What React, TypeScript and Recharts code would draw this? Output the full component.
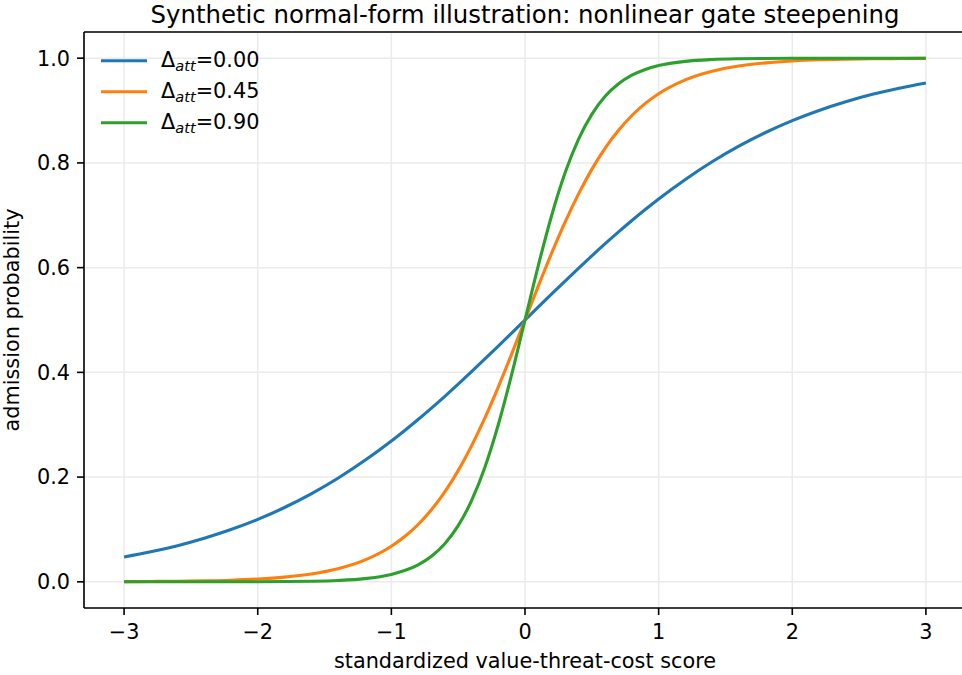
import React from 'react';
import { LineChart, Line, XAxis, YAxis, CartesianGrid, Legend, ReferenceLine } from 'recharts';

const xValues = [-3, -2.8, -2.6, -2.4, -2.2, -2, -1.8, -1.6, -1.4, -1.2, -1, -0.9, -0.8, -0.7, -0.6, -0.5, -0.4, -0.3, -0.2, -0.1, 0, 0.1, 0.2, 0.3, 0.4, 0.5, 0.6, 0.7, 0.8, 0.9, 1, 1.2, 1.4, 1.6, 1.8, 2, 2.2, 2.4, 2.6, 2.8, 3];
const delta000 = [0.0474, 0.0573, 0.0691, 0.0832, 0.0998, 0.1192, 0.1419, 0.168, 0.1978, 0.2315, 0.2689, 0.2891, 0.31, 0.3318, 0.3543, 0.3775, 0.4013, 0.4256, 0.4502, 0.475, 0.5, 0.525, 0.5498, 0.5744, 0.5987, 0.6225, 0.6457, 0.6682, 0.69, 0.7109, 0.7311, 0.7685, 0.8022, 0.832, 0.8581, 0.8808, 0.9002, 0.9168, 0.9309, 0.9427, 0.9526];
const delta045 = [0.0004, 0.0007, 0.0011, 0.0019, 0.0031, 0.0053, 0.0089, 0.0149, 0.0249, 0.0413, 0.0679, 0.0864, 0.1095, 0.1378, 0.1719, 0.2124, 0.2596, 0.313, 0.3719, 0.4349, 0.5, 0.5651, 0.6281, 0.687, 0.7404, 0.7876, 0.8281, 0.8622, 0.8905, 0.9136, 0.9322, 0.9587, 0.9751, 0.9851, 0.9911, 0.9947, 0.9969, 0.9981, 0.9989, 0.9993, 0.9996];
const delta090 = [0, 0, 0, 0, 0.0001, 0.0002, 0.0005, 0.0011, 0.0026, 0.0061, 0.0142, 0.0215, 0.0325, 0.0489, 0.0728, 0.1072, 0.155, 0.2189, 0.2999, 0.3956, 0.5, 0.6044, 0.7001, 0.7811, 0.845, 0.8928, 0.9272, 0.9511, 0.9675, 0.9785, 0.9858, 0.9939, 0.9974, 0.9989, 0.9995, 0.9998, 0.9999, 1, 1, 1, 1];

const xTicks = [-3, -2, -1, 0, 1, 2, 3];
const yTicks = [0, 0.2, 0.4, 0.6, 0.8, 1.0];
const seriesKeys = ['d000', 'd045', 'd090'];
const seriesLabels = ['0.00', '0.45', '0.90'];
const seriesColors = ['#1f77b4', '#ff7f0e', '#2ca02c'];

const titleText = 'Synthetic normal-form illustration: nonlinear gate steepening';
const xLabelText = 'standardized value-threat-cost score';
const yLabelText = 'admission probability';

const data = xValues.map((x, i) => ({ x, d000: delta000[i], d045: delta045[i], d090: delta090[i] }));

const FONT = 'DejaVu Sans, sans-serif';
const FS = 20.8;
const tickStyle = { fontFamily: FONT, fontSize: FS, fill: '#000' };
const AXW = 1.6;

const fmtX = (v: number) => String(v).replace('-', '\u2212');
const fmtY = (v: number) => v.toFixed(1);

const LegendContent = () => (
  <svg width={180} height={100} style={{ display: 'block', overflow: 'visible' }}>
    {seriesLabels.map((lab, i) => (
      <g key={lab}>
        <line x1={6} y1={20.7 + 31 * i} x2={52} y2={20.7 + 31 * i} stroke={seriesColors[i]} strokeWidth={3.1} />
        <text x={66} y={26.7 + 31 * i} style={{ fontFamily: FONT, fontSize: FS, fill: '#000' }}>
          Δ
          <tspan dy={4} style={{ fontStyle: 'italic', fontSize: 14.6 }}>att</tspan>
          <tspan dy={-4}>={lab}</tspan>
        </text>
      </g>
    ))}
  </svg>
);

export default function App() {
  return (
    <div style={{ position: 'absolute', left: 0, top: 0, width: 962, height: 675, overflow: 'hidden', background: '#fff' }}>
      <LineChart width={980} height={675} data={data} margin={{ top: 32, right: 14, bottom: 37, left: 24 }}>
        <CartesianGrid stroke="#ebebeb" strokeWidth={1.5} />
        <XAxis
          dataKey="x"
          type="number"
          domain={[-3.3, 3.3]}
          ticks={xTicks}
          tickFormatter={fmtX}
          allowDataOverflow
          height={30}
          tickSize={7}
          tickMargin={9}
          tick={tickStyle}
          stroke="#000"
          axisLine={{ stroke: '#000', strokeWidth: AXW }}
          tickLine={{ stroke: '#000', strokeWidth: AXW }}
          label={{
            content: (props: any) => {
              const vb = props.viewBox;
              return (
                <text x={vb.x + vb.width / 2} y={668} textAnchor="middle" style={{ fontFamily: FONT, fontSize: FS, fill: '#000' }}>
                  {xLabelText}
                </text>
              );
            },
          }}
        />
        <YAxis
          type="number"
          domain={[-0.05, 1.05]}
          ticks={yTicks}
          tickFormatter={fmtY}
          allowDataOverflow
          width={60}
          tickSize={7}
          tickMargin={7}
          tick={tickStyle}
          axisLine={{ stroke: '#000', strokeWidth: AXW }}
          tickLine={{ stroke: '#000', strokeWidth: AXW }}
          label={{
            content: (props: any) => {
              const vb = props.viewBox;
              const cx = 18.5;
              const cy = vb.y + vb.height / 2;
              return (
                <text x={cx} y={cy} textAnchor="middle" transform={`rotate(-90, ${cx}, ${cy})`} style={{ fontFamily: FONT, fontSize: FS, fill: '#000' }}>
                  {yLabelText}
                </text>
              );
            },
          }}
        />
        <ReferenceLine y={1.05} stroke="#000" strokeWidth={AXW} ifOverflow="visible" />
        <Legend
          layout="vertical"
          align="center"
          verticalAlign="middle"
          content={<LegendContent />}
          wrapperStyle={{ position: 'absolute', left: 95, top: 40, width: 180, height: 100 }}
        />
        {seriesKeys.map((k, i) => (
          <Line
            key={k}
            dataKey={k}
            name={`Δatt=${seriesLabels[i]}`}
            type="monotone"
            stroke={seriesColors[i]}
            strokeWidth={3.1}
            dot={false}
            activeDot={false}
            isAnimationActive={false}
          />
        ))}
      </LineChart>
      <svg width={962} height={32} style={{ position: 'absolute', left: 0, top: 0, pointerEvents: 'none' }}>
        <text x={525} y={22.5} textAnchor="middle" style={{ fontFamily: FONT, fontSize: 24.4, fill: '#000' }}>
          {titleText}
        </text>
      </svg>
    </div>
  );
}
